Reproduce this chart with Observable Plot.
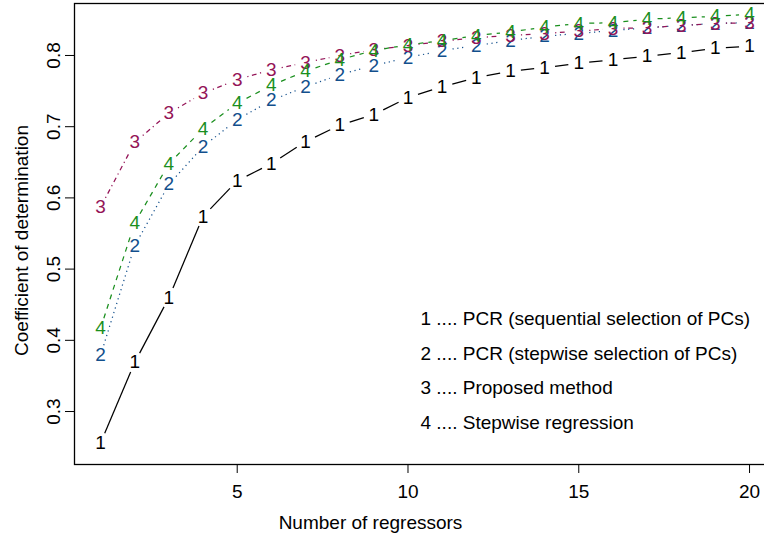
<!DOCTYPE html>
<html>
<head>
<meta charset="utf-8">
<script src="https://cdn.jsdelivr.net/npm/d3@7"></script>
<script src="https://cdn.jsdelivr.net/npm/@observablehq/plot@0.6"></script>
<style>
  html, body { margin: 0; padding: 0; background: #fff; overflow: hidden; }
</style>
</head>
<body>
<div id="chart"></div>
<script>
// ---- data ----
const regressors = [1, 2, 3, 4, 5, 6, 7, 8, 9, 10, 11, 12, 13, 14, 15, 16, 17, 18, 19, 20];
const pcrSequential = [0.256, 0.369, 0.460, 0.574, 0.624, 0.648, 0.679, 0.702, 0.717, 0.741,
                       0.756, 0.769, 0.778, 0.783, 0.789, 0.794, 0.799, 0.804, 0.810, 0.813];
const pcrStepwise   = [0.379, 0.533, 0.619, 0.672, 0.710, 0.737, 0.756, 0.773, 0.786, 0.797,
                       0.807, 0.814, 0.821, 0.827, 0.831, 0.835, 0.839, 0.842, 0.845, 0.846];
const proposed      = [0.587, 0.678, 0.719, 0.747, 0.766, 0.780, 0.790, 0.800, 0.808, 0.814,
                       0.820, 0.825, 0.828, 0.831, 0.834, 0.838, 0.839, 0.842, 0.845, 0.846];
const stepwiseReg   = [0.417, 0.565, 0.648, 0.697, 0.733, 0.758, 0.778, 0.794, 0.807, 0.815,
                       0.821, 0.828, 0.833, 0.840, 0.845, 0.846, 0.851, 0.853, 0.855, 0.858];
const seriesLabels  = ["1", "2", "3", "4"];
const legendLabels  = [
  "1 .... PCR (sequential selection of PCs)",
  "2 .... PCR (stepwise selection of PCs)",
  "3 .... Proposed method",
  "4 .... Stepwise regression"
];
const xTicks = [5, 10, 15, 20];
const yTicks = [0.3, 0.4, 0.5, 0.6, 0.7, 0.8];
const xTitle = "Number of regressors";
const yTitle = "Coefficient of determination";

// ---- styles ----
const FONT = '"Liberation Sans", Arial, Helvetica, sans-serif';
const FS = 19;
const seriesStyles = [
  { color: "#000000", dash: null },
  { color: "#124f8c", dash: "1.2,3.6" },
  { color: "#941457", dash: "1.2,3.6,4.8,3.6" },
  { color: "#1a8f1e", dash: "5,5" }
];

// ---- layout ----
const W = 764, H = 537, mL = 74, mR = -11, mT = 3, mB = 73;
const xDomain = [0.236, 20.76], yDomain = [0.2256, 0.873];
const sx = Plot.scale({ x: { type: "linear", domain: xDomain, range: [mL, W - mR] } });
const sy = Plot.scale({ y: { type: "linear", domain: yDomain, range: [H - mB, mT] } });
const GAP = 10.5; // R type="b" gap around each point label, pixels

const allSeries = [pcrSequential, pcrStepwise, proposed, stepwiseReg];

function gappedSegments(values) {
  const segs = [];
  for (let i = 0; i < regressors.length - 1; i++) {
    const x0 = sx.apply(regressors[i]), y0 = sy.apply(values[i]);
    const x1 = sx.apply(regressors[i + 1]), y1 = sy.apply(values[i + 1]);
    const d = Math.hypot(x1 - x0, y1 - y0);
    if (d <= 2 * GAP) continue;
    const ux = (x1 - x0) / d, uy = (y1 - y0) / d;
    segs.push({
      x1: sx.invert(x0 + GAP * ux), y1: sy.invert(y0 + GAP * uy),
      x2: sx.invert(x1 - GAP * ux), y2: sy.invert(y1 - GAP * uy)
    });
  }
  return segs;
}

const marks = [];
allSeries.forEach((vals, s) => {
  const st = seriesStyles[s];
  marks.push(Plot.link(gappedSegments(vals), {
    x1: "x1", y1: "y1", x2: "x2", y2: "y2",
    stroke: st.color, strokeWidth: 1.25,
    strokeDasharray: st.dash ?? undefined
  }));
});
allSeries.forEach((vals, s) => {
  const st = seriesStyles[s];
  const rows = regressors.map((r, i) => ({ x: r, y: vals[i] }));
  marks.push(Plot.text(rows, {
    x: "x", y: "y", text: () => seriesLabels[s],
    fill: st.color, fontSize: FS
  }));
});

const chart = Plot.plot({
  width: W, height: H,
  marginLeft: mL, marginRight: mR, marginTop: mT, marginBottom: mB,
  style: { fontFamily: FONT, fontSize: FS + "px", color: "#000", background: "#fff" },
  x: { type: "linear", domain: xDomain },
  y: { type: "linear", domain: yDomain },
  marks: [
    Plot.axisX({ ticks: xTicks, tickSize: 9, tickPadding: 11, fontSize: FS, label: null, stroke: "#000" }),
    Plot.axisY({ ticks: yTicks, tickSize: 9, tickPadding: 6, tickRotate: -90, fontSize: FS,
                 tickFormat: d => d.toFixed(1), label: null, stroke: "#000" }),
    ...marks,
    Plot.frame({ stroke: "#000", strokeWidth: 1.3 }),
    Plot.text([legendLabels.join("\n")], {
      frameAnchor: "top-left", dx: 346, dy: 362.5, textAnchor: "start", lineAnchor: "middle",
      lineHeight: 34.67 / FS, fontSize: FS, fill: "#000"
    }),
    Plot.text([xTitle], { frameAnchor: "bottom", dx: -54.5, dy: 58, textAnchor: "middle",
                          lineAnchor: "middle", fontSize: FS, fill: "#000" }),
    Plot.text([yTitle], { frameAnchor: "left", dx: -53, dy: 6.5, rotate: -90, textAnchor: "middle",
                          lineAnchor: "middle", fontSize: FS, fill: "#000" })
  ]
});
document.getElementById("chart").appendChild(chart);
</script>
</body>
</html>
